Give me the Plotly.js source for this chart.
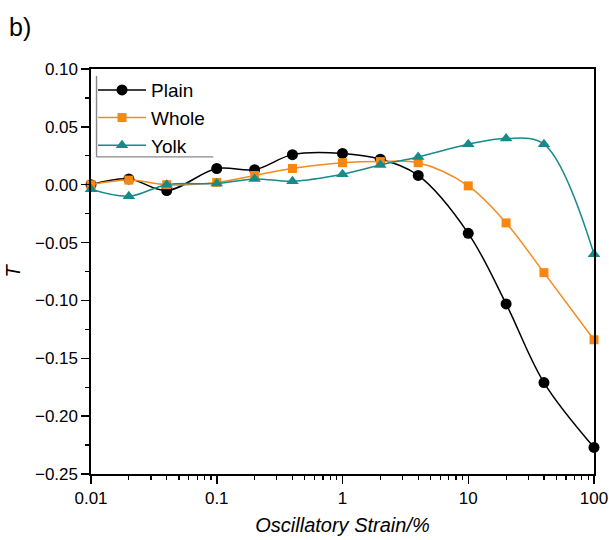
<!DOCTYPE html>
<html>
<head>
<meta charset="utf-8">
<script src="https://cdn.plot.ly/plotly-3.0.1.min.js"></script>
<style>html,body{margin:0;padding:0;background:#fff;}#chart{width:609px;height:540px;}</style>
</head>
<body>
<div id="chart"></div>
<script>
const strain = [0.01, 0.02, 0.04, 0.1, 0.2, 0.4, 1, 2, 4, 10, 20, 40, 100];
const plain = [0.000, 0.005, -0.005, 0.014, 0.013, 0.026, 0.027, 0.022, 0.008, -0.042, -0.103, -0.171, -0.227];
const whole = [0.000, 0.004, 0.000, 0.002, 0.008, 0.014, 0.019, 0.020, 0.019, -0.001, -0.033, -0.076, -0.134];
const yolk = [-0.004, -0.010, 0.000, 0.001, 0.005, 0.003, 0.009, 0.017, 0.024, 0.035, 0.040, 0.035, -0.060];
const xTickVals = [0.01, 0.1, 1, 10, 100];
const xTickText = ['0.01', '0.1', '1', '10', '100'];
const yTickVals = [0.10, 0.05, 0.00, -0.05, -0.10, -0.15, -0.20, -0.25];

const FONT = 'Liberation Sans, Arial, sans-serif';
const traces = [
  {x: strain, y: plain, name: 'Plain', mode: 'lines+markers', cliponaxis: false,
   line: {color: '#000000', width: 1.5, shape: 'spline', smoothing: 1},
   marker: {symbol: 'circle', size: 11, color: '#000000'}},
  {x: strain, y: whole, name: 'Whole', mode: 'lines+markers', cliponaxis: false,
   line: {color: '#F28A1E', width: 1.5, shape: 'spline', smoothing: 1},
   marker: {symbol: 'square', size: 9, color: '#F7870F'}},
  {x: strain, y: yolk, name: 'Yolk', mode: 'lines+markers', cliponaxis: false,
   line: {color: '#178A8A', width: 1.5, shape: 'spline', smoothing: 1},
   marker: {symbol: 'triangle-up', size: 11, color: '#178A8A'}}
];
const layout = {
  width: 609, height: 540,
  margin: {l: 91, r: 15, t: 69, b: 66},
  paper_bgcolor: '#fff', plot_bgcolor: '#fff',
  font: {family: FONT, size: 17, color: '#000'},
  showlegend: true,
  legend: {x: 0.004, y: 0.995, xanchor: 'left', yanchor: 'top', bgcolor: 'rgba(0,0,0,0)',
    font: {family: FONT, size: 19, color: '#000'}, itemwidth: 48, traceorder: 'normal'},
  xaxis: {type: 'log', range: [-2, 2], tickvals: xTickVals, ticktext: xTickText,
    ticks: 'outside', ticklen: 8, tickwidth: 1.5, tickcolor: '#000',
    showline: true, linecolor: '#000', linewidth: 1.6, mirror: true, showgrid: false, zeroline: false,
    tickfont: {family: FONT, size: 17},
    minor: {ticks: 'outside', ticklen: 4, tickwidth: 1.2, tickcolor: '#000', dtick: 'D1', showgrid: false},
    title: {text: '<i>Oscillatory Strain/%</i>', font: {family: FONT, size: 20}, standoff: 11}},
  yaxis: {range: [-0.25, 0.10], tickvals: yTickVals, tickformat: '.2f',
    ticks: 'outside', ticklen: 8, tickwidth: 1.5, tickcolor: '#000',
    showline: true, linecolor: '#000', linewidth: 1.6, mirror: true, showgrid: false, zeroline: false,
    tickfont: {family: FONT, size: 17},
    minor: {ticks: 'outside', ticklen: 4, tickwidth: 1.2, tickcolor: '#000', dtick: 0.025, showgrid: false},
    title: {text: '<i>T</i>', font: {family: FONT, size: 20}, standoff: 9}},
  shapes: [
    {type: 'line', xref: 'paper', yref: 'paper', x0: 0.011, x1: 0.011, y0: 0.983, y1: 0.783, line: {color: '#888', width: 1.4}},
    {type: 'line', xref: 'paper', yref: 'paper', x0: 0.011, x1: 0.243, y0: 0.783, y1: 0.783, line: {color: '#888', width: 1.4}}
  ],
  annotations: [
    {text: 'b)', xref: 'paper', yref: 'paper', x: -0.167, y: 1.103, xanchor: 'left', yanchor: 'middle',
     showarrow: false, font: {family: FONT, size: 25, color: '#000'}}
  ]
};
Plotly.newPlot('chart', traces, layout, {displayModeBar: false, staticPlot: true});
</script>
</body>
</html>
